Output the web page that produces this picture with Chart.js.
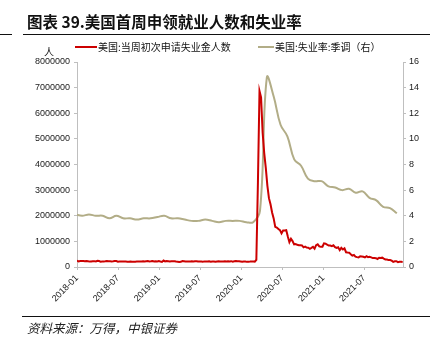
<!DOCTYPE html>
<html>
<head>
<meta charset="utf-8">
<script src="https://cdn.jsdelivr.net/npm/chart.js@4/dist/chart.umd.min.js"></script>
<style>
body { margin: 0; background: #fff; width: 441px; height: 349px; position: relative; overflow: hidden; font-family: "Noto Sans CJK SC", sans-serif; }
#chart { position: absolute; left: 0; top: 0; }
.abs { position: absolute; white-space: nowrap; }
.rule { height: 1px; background: #111; }
.title { left: 27px; top: 13px; font-size: 15.5px; line-height: 16px; font-weight: bold; color: #111; }
.legend { top: 41px; font-size: 10px; line-height: 11px; color: #111; }
.swatch { height: 2px; top: 46px; }
.unit { left: 44px; top: 46px; font-size: 10px; line-height: 11px; color: #111; }
.source { left: 27px; top: 321px; font-size: 12.5px; line-height: 14px; font-style: italic; color: #222; }
</style>
</head>
<body>
<canvas id="chart" width="441" height="349"></canvas>
<div class="abs title">图表 39.美国首周申领就业人数和失业率</div>
<div class="abs rule" style="left:0;top:34px;width:12px"></div>
<div class="abs rule" style="left:23px;top:34px;width:407px"></div>
<div class="abs unit">人</div>
<div class="abs swatch" style="left:75px;width:22px;background:#cc0000"></div>
<div class="abs legend" style="left:98px">美国:当周初次申请失业金人数</div>
<div class="abs swatch" style="left:258px;width:16px;background:#b2ad87"></div>
<div class="abs legend" style="left:275px">美国:失业率:季调（右）</div>
<div class="abs rule" style="left:22px;top:316px;width:408px"></div>
<div class="abs source">资料来源：万得，中银证券</div>

<script>
// x axis labels (months since 2018-01)
const xLabels = ['2018-01', '2018-07', '2019-01', '2019-07', '2020-01', '2020-07', '2021-01', '2021-07'];
const tickMonths = [0, 6, 12, 18, 24, 30, 36, 42];

// weekly initial claims, thousands (first week ends 2018-01-06)
const claims2018 = [250, 220, 233, 230, 230, 221, 230, 222, 210, 213, 227, 229, 215, 242, 232, 209, 211, 214, 222, 234, 223, 221, 218, 222, 231, 232,
    208, 215, 218, 218, 213, 212, 209, 203, 210, 202, 206, 208, 215, 210, 212, 216, 223, 215, 224, 232, 218, 221, 233, 214, 221, 217];
const claims2019 = [231, 213, 199, 253, 217, 234, 226, 216, 223, 229, 221, 211, 206, 196, 202, 230, 228, 216, 212, 216, 215, 220, 217, 227, 227, 216,
    211, 217, 208, 219, 216, 211, 221, 206, 217, 214, 204, 213, 220, 212, 218, 217, 227, 214, 225, 216, 228, 210, 223, 237, 224, 221];
const claims2020 = [214, 204, 216, 216, 201, 205, 211, 219, 216, 211, 282,
    3307, 6867, 6615, 5237, 4442, 3867, 3176, 2687, 2446, 2126, 1897, 1566, 1540, 1482, 1438, 1310, 1422, 1422, 1435, 1190,
    971, 1104, 1011, 881, 893, 866, 849, 849, 840, 767, 794, 757, 751, 711, 748, 787, 716, 853, 885, 806, 787];
const claims2021 = [790, 926, 914, 868, 836, 837, 812, 848, 776, 745, 770, 658, 745, 684, 728, 576, 566, 560, 500, 444,
    469, 405, 385, 375, 418, 411, 399, 373, 424, 385, 399, 375, 349, 353, 345, 312, 362, 351, 364, 326,
    296, 290, 269, 272, 248, 199, 222, 227, 188, 206, 206, 198];

// monthly unemployment rate, % (2017-12 .. 2021-11)
const rate2017 = [4.1];
const rate2018 = [4.0, 4.1, 4.0, 4.0, 3.8, 4.0, 3.8, 3.8, 3.7, 3.8, 3.8, 3.9];
const rate2019 = [4.0, 3.8, 3.8, 3.7, 3.6, 3.6, 3.7, 3.6, 3.5, 3.6, 3.6, 3.6];
const rate2020 = [3.5, 3.5, 4.4, 14.8, 13.3, 11.1, 10.2, 8.4, 7.9, 6.9, 6.7, 6.7];
const rate2021 = [6.3, 6.2, 6.0, 6.1, 5.8, 5.9, 5.4, 5.2, 4.7, 4.6, 4.2];

const axisColor = '#bfbfbf';
const tickFont = { family: '"Liberation Sans", Arial, sans-serif', size: 9 };

const claims = [...claims2018, ...claims2019, ...claims2020, ...claims2021];
const claimsPoints = claims.map((v, i) => ({ x: i * 7 / 30.44, y: v * 1000 }));

const rates = [...rate2017, ...rate2018, ...rate2019, ...rate2020, ...rate2021];
const ratePoints = rates.map((v, i) => ({ x: i - 1 + 0.75, y: v }));

new Chart(document.getElementById('chart'), {
    type: 'line',
    data: {
        datasets: [{
            label: '美国:当周初次申请失业金人数',
            data: claimsPoints,
            borderColor: '#cc0000',
            borderWidth: 2,
            pointRadius: 0,
            tension: 0,
            yAxisID: 'y'
        }, {
            label: '美国:失业率:季调（右）',
            data: ratePoints,
            borderColor: '#b2ad87',
            borderWidth: 2,
            pointRadius: 0,
            tension: 0.4,
            yAxisID: 'y1'
        }]
    },
    options: {
        responsive: false,
        animation: false,
        layout: { padding: { top: 62, bottom: 32, left: 0, right: 0 } },
        plugins: { legend: { display: false }, tooltip: { enabled: false } },
        scales: {
            x: {
                type: 'linear',
                min: 0,
                max: 47.65,
                afterBuildTicks: s => { s.ticks = tickMonths.map(v => ({ value: v })); },
                afterFit: s => { s.height = 50; },
                ticks: {
                    autoSkip: false, minRotation: 45, maxRotation: 45, padding: 3,
                    font: tickFont, color: '#1a1a1a',
                    callback: v => xLabels[tickMonths.indexOf(v)]
                },
                grid: { drawOnChartArea: false, tickLength: 3, color: axisColor },
                border: { color: axisColor }
            },
            y: {
                position: 'left',
                min: 0,
                max: 8000000,
                afterFit: s => { s.width = 77; },
                ticks: { stepSize: 1000000, padding: 4, font: tickFont, color: '#1a1a1a', callback: v => String(v) },
                grid: { drawOnChartArea: false, tickLength: 3, color: axisColor },
                border: { color: axisColor }
            },
            y1: {
                position: 'right',
                min: 0,
                max: 16,
                afterFit: s => { s.width = 38; },
                ticks: { stepSize: 2, padding: 3, font: tickFont, color: '#1a1a1a' },
                grid: { drawOnChartArea: false, tickLength: 3, color: axisColor },
                border: { color: axisColor }
            }
        }
    }
});
</script>
</body>
</html>
